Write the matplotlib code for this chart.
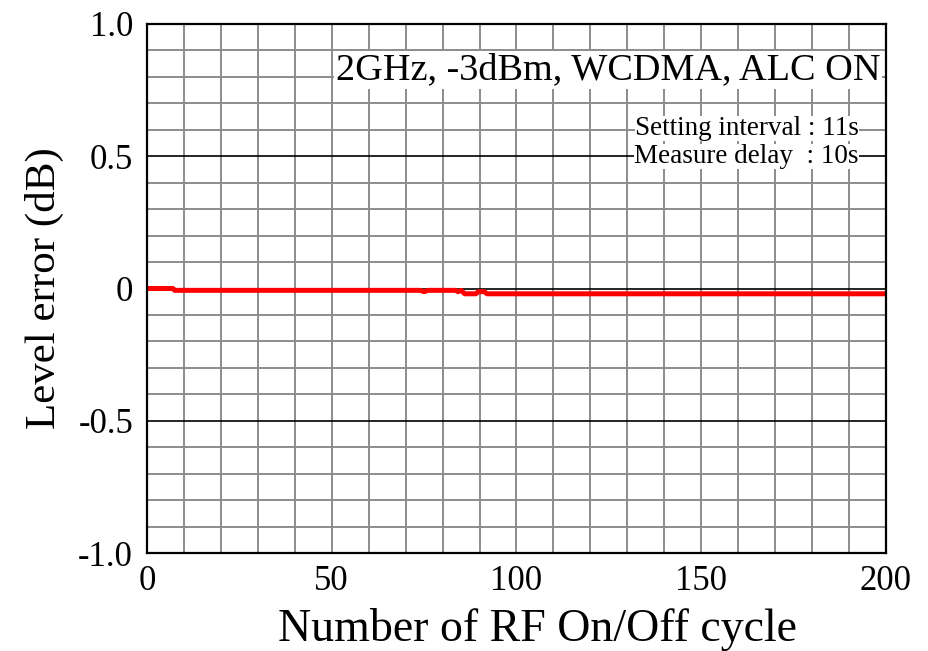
import matplotlib
matplotlib.use("Agg")
import matplotlib.pyplot as plt
import numpy as np

# Level error vs number of RF on/off cycles
cycles = [0, 7, 7.5, 74, 75, 76, 83.5, 84.2, 85, 86, 89, 89.7, 91.3, 92, 200]
level_error = [0.0, 0.0, -0.007, -0.007, -0.012, -0.007, -0.007, -0.012, -0.007, -0.02,
               -0.02, -0.012, -0.012, -0.02, -0.02]

x_ticks = [0, 50, 100, 150, 200]
y_ticks = [-1.0, -0.5, 0.0, 0.5, 1.0]
y_tick_labels = ["-1.0", "-0.5", "0", "0.5", "1.0"]

title_text = "2GHz, -3dBm, WCDMA, ALC ON"
note_lines = ["Setting interval : 11s", "Measure delay  : 10s"]

plt.rcParams["font.family"] = ["Liberation Serif", "DejaVu Serif"]

fig = plt.figure(figsize=(9.29, 6.51), dpi=100)
ax = fig.add_axes([147 / 929, 98 / 651, 739 / 929, 529 / 651])

ax.set_xlim(0, 200)
ax.set_ylim(-1.0, 1.0)

# minor grid every 10 cycles / 0.1 dB
for xv in np.arange(10, 200, 10):
    ax.axvline(xv, color="#8c8c8c", lw=1.4, zorder=1)
for yv in np.arange(-0.9, 0.95, 0.1):
    if abs(round(yv, 2)) in (0.5, 0.0):
        continue
    ax.axhline(yv, color="#8c8c8c", lw=1.4, zorder=1)
for yv in (-0.5, 0.0, 0.5):
    ax.axhline(yv, color="black", lw=1.2, zorder=2)

ax.plot(cycles, level_error, color="#ff0000", lw=3.6, zorder=4,
        solid_capstyle="butt")

ax.set_xticks(x_ticks)
ax.set_xticklabels([str(t) for t in x_ticks])
ax.set_yticks(y_ticks)
ax.set_yticklabels(y_tick_labels)
ax.tick_params(axis="both", length=0, labelsize=25)
ax.tick_params(axis="x", pad=9)
ax.tick_params(axis="y", pad=10)
for s in ax.spines.values():
    s.set_linewidth(1.6)
    s.set_zorder(5)

ax.set_xlabel("Number of RF On/Off cycle", fontsize=33, labelpad=7)
ax.xaxis.label.set_x(0.528)
ax.set_ylabel("Level error (dB)", fontsize=31, labelpad=10)

ax.text(0.992, 0.913, title_text, transform=ax.transAxes, ha="right", va="center",
        fontsize=27.5, zorder=6,
        bbox=dict(facecolor="white", edgecolor="none", pad=1))
ax.text(0.963, 0.803, note_lines[0], transform=ax.transAxes, ha="right", va="center",
        fontsize=19.5, zorder=6,
        bbox=dict(facecolor="white", edgecolor="none", pad=0))
ax.text(0.963, 0.75, note_lines[1], transform=ax.transAxes, ha="right", va="center",
        fontsize=19.5, zorder=6,
        bbox=dict(facecolor="white", edgecolor="none", pad=0))

fig.savefig("out.png", dpi=100)
